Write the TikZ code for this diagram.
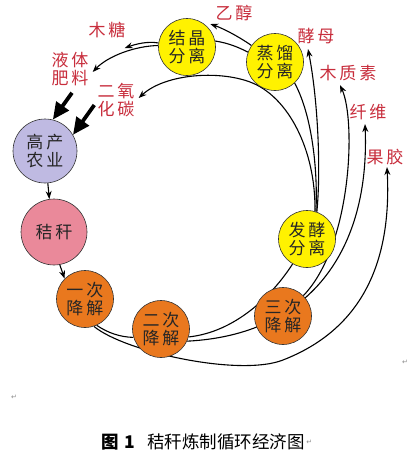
\documentclass[tikz,border=0pt]{standalone}
\usepackage{fontspec}
\newfontfamily\cjk{Noto Sans CJK SC}
\newfontfamily\pmfont{DejaVu Sans}
\usetikzlibrary{arrows.meta,backgrounds}
\definecolor{nodeyellow}{RGB}{255,242,0}
\definecolor{nodeorange}{RGB}{233,120,30}
\definecolor{nodelav}{RGB}{191,186,226}
\definecolor{nodepink}{RGB}{234,137,154}
\definecolor{labred}{RGB}{200,45,60}
\newcommand\cjkgap{\hspace{3pt}}
\tikzset{
  proc/.style={circle, draw=black!80, line width=0.6pt, minimum size=57pt, inner sep=0pt,
    align=center, text=black!85, font=\cjk\fontsize{17}{18.5}\selectfont},
  lbl/.style={inner sep=1pt, align=center, text=labred, font=\cjk\fontsize{17}{17.5}\selectfont},
  conn/.style={line width=1.1pt, draw=black},
  arr/.style={conn, -{Stealth[length=8pt,width=6pt]}},
  fatarr/.style={line width=3.8pt, draw=black, -{Triangle[length=17pt,width=15pt]}},
  pmark/.style={inner sep=0pt, text=black!45, font=\pmfont\fontsize{7}{8}\selectfont}
}
\begin{document}
\begin{tikzpicture}[x=1pt,y=-1pt]
\useasboundingbox (0,0) rectangle (412,464);
% nodes
\node[proc, fill=nodelav, minimum size=64pt] (gaochan) at (45,151) {高\cjkgap 产\\农\cjkgap 业};
\node[proc, fill=nodepink, minimum size=66pt] (jiegan) at (54,232) {秸\cjkgap 秆};
\node[proc, fill=nodeorange] (yici) at (85,299) {一\cjkgap 次\\降\cjkgap 解};
\node[proc, fill=nodeorange] (erci) at (161,329) {二\cjkgap 次\\降\cjkgap 解};
\node[proc, fill=nodeorange] (sanci) at (283,316) {三\cjkgap 次\\降\cjkgap 解};
\node[proc, fill=nodeyellow] (fajiao) at (307,239) {发\cjkgap 酵\\分\cjkgap 离};
\node[proc, fill=nodeyellow] (zhengliu) at (275,62) {蒸\cjkgap 馏\\分\cjkgap 离};
\node[proc, fill=nodeyellow] (jiejing) at (187,47) {结\cjkgap 晶\\分\cjkgap 离};
% labels
\node[lbl] (muting) at (107,30) {木\cjkgap 糖};
\node[lbl] (feiliao) at (70,69) {液\cjkgap 体\\肥\cjkgap 料};
\node[lbl] (co2) at (116,100) {二\cjkgap 氧\\化\cjkgap 碳};
\node[lbl] (yichun) at (234,13) {乙\cjkgap 醇};
\node[lbl] (jiaomu) at (316,36) {酵\cjkgap 母};
\node[lbl] (muzhisu) at (348,73) {木\cjkgap 质\cjkgap 素};
\node[lbl] (xianwei) at (368,112) {纤\cjkgap 维};
\node[lbl] (guojiao) at (385,157) {果\cjkgap 胶};
% caption and paragraph marks
\node[anchor=west, inner sep=0pt, font=\cjk\fontsize{17.5}{20}\selectfont] (cap) at (101,442)
  {\textbf{图\hspace{6pt}1}\hspace{12pt}秸秆炼制循环经济图};
\node[pmark] (pm1) at (14,397) {↵};
\node[pmark, anchor=west] (pm2) at ([xshift=1pt]cap.east) {↵};
\node[pmark] (pm3) at (405,362) {↵};
% straight arrows
\draw[arr] (gaochan.-85) -- (jiegan.98);
\draw[arr] (jiegan.-80) -- (yici.135);
\draw[fatarr] ([xshift=2pt,yshift=-6pt]feiliao.south) -- (gaochan.76);
\draw[fatarr] ([xshift=-2pt,yshift=-5pt]co2.west) -- (gaochan.30);
\begin{pgfonlayer}{background}
\fill[white] (0,0) rectangle (412,464);
\draw[conn] (yici.-66) .. controls (108,333) and (120,337) .. (erci.197);
\draw[arr] (yici.-72) .. controls (125,352) and (240,377) .. (283,360)
  .. controls (360,330) and (392,265) .. ([xshift=2pt,yshift=-1pt]guojiao.south);
\draw[conn] (erci.-16) .. controls (235,332) and (272,296) .. (fajiao.240);
\draw[arr] (erci.-25) .. controls (310,335) and (370,250) .. ([xshift=-3pt,yshift=-3pt]xianwei.south);
\draw[arr] (sanci.45) .. controls (352,245) and (356,120) .. ([xshift=-8pt,yshift=-3pt]muzhisu.south);
\draw[arr] (fajiao.70) .. controls (321,170) and (318,100) .. ([xshift=-8pt,yshift=-4pt]jiaomu.south);
\draw[conn] (fajiao.72) .. controls (318,170) and (312,115) .. (zhengliu.-47);
\draw[arr] (fajiao.74) .. controls (316,150) and (288,96) .. (250,82)
  .. controls (218,70) and (165,74) .. ([xshift=3pt,yshift=2pt]co2.east);
\draw[arr] (zhengliu.145) .. controls (238,36) and (222,28) .. ([xshift=-4pt,yshift=-2pt]yichun.south west);
\draw[conn] (zhengliu.160) .. controls (238,47) and (228,43) .. (jiejing.12);
\draw[arr] (jiejing.172) .. controls (148,41) and (136,44) .. ([xshift=-2pt,yshift=-9pt]muting.south east);
\draw[arr] (jiejing.177) .. controls (135,46) and (108,56) .. ([xshift=3pt,yshift=-3pt]feiliao.east);
\end{pgfonlayer}
\end{tikzpicture}
\end{document}
